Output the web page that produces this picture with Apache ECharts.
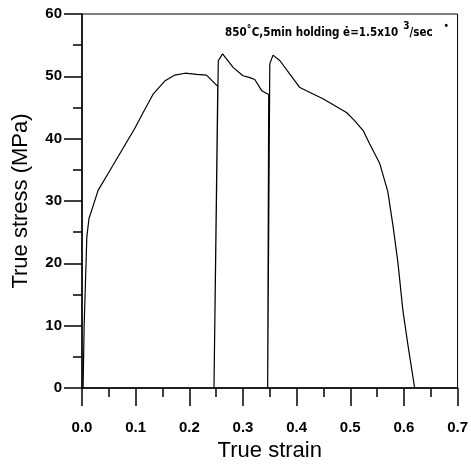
<!DOCTYPE html>
<html><head><meta charset="utf-8">
<script src="https://cdn.jsdelivr.net/npm/echarts@6/dist/echarts.min.js"></script>
<style>html,body{margin:0;padding:0;background:#fff}#c{width:471px;height:467px}</style>
</head><body><div id="c"></div>
<script>
const strain = [0.002,0.004,0.009,0.013,0.018,0.030,0.052,0.074,0.098,0.114,0.133,0.155,0.173,0.192,0.214,0.232,0.253,0.246,0.254,0.262,0.282,0.300,0.313,0.322,0.335,0.348,0.346,0.350,0.356,0.369,0.387,0.406,0.449,0.493,0.508,0.524,0.536,0.555,0.570,0.580,0.589,0.598,0.608,0.620];
const stress = [0,10,24.2,27.2,28.5,31.7,34.9,38.1,41.6,44.2,47.2,49.3,50.2,50.5,50.3,50.2,48.4,0,52.5,53.6,51.4,50.1,49.8,49.5,47.7,47.1,0,52.0,53.4,52.5,50.4,48.2,46.4,44.2,42.9,41.3,39.2,36.0,31.5,25.8,20.0,12.5,6.6,0];
const xTitle = 'True strain';
const yTitle = 'True stress (MPa)';
const note = '850˚C,5min holding ė=1.5x10';

const chart = echarts.init(document.getElementById('c'));
const axisCommon = {
  axisLine: {show: true, onZero: false, lineStyle: {color: '#000', width: 1.5}},
  axisTick: {show: true, inside: false, length: 18, lineStyle: {color: '#000', width: 1.5}},
  minorTick: {show: true, splitNumber: 2, length: 9, lineStyle: {color: '#000', width: 1.5}},
  splitLine: {show: false},
  axisLabel: {color: '#000', fontFamily: 'Liberation Sans', fontWeight: 'bold', fontSize: 15}
};
const cond = "'DejaVu Sans Condensed', 'Liberation Sans', sans-serif";
chart.setOption({
  animation: false,
  backgroundColor: '#fff',
  grid: {left: 82, top: 14, right: 13, bottom: 79, show: true, borderColor: '#000', borderWidth: 1, backgroundColor: 'transparent'},
  title: {
    text: '{a|' + note + '}{s|3}{a|/sec}{d|•}',
    left: 220, top: 16,
    textStyle: {rich: {
      a: {fontFamily: cond, fontWeight: 'bold', fontSize: 11.5, color: '#000', verticalAlign: 'bottom', lineHeight: 18},
      s: {fontFamily: cond, fontWeight: 'bold', fontSize: 10, color: '#000', verticalAlign: 'top', padding: [0, 0, 8, 5], lineHeight: 18},
      d: {fontSize: 10, color: '#000', padding: [0, 0, 8, 12], lineHeight: 18}
    }}
  },
  xAxis: Object.assign({}, axisCommon, {
    type: 'value', min: 0, max: 0.7, interval: 0.1,
    name: xTitle, nameLocation: 'middle', nameGap: 52,
    nameTextStyle: {color: '#000', fontFamily: 'Liberation Sans', fontSize: 22},
    axisLabel: Object.assign({}, axisCommon.axisLabel, {margin: 32, formatter: v => v.toFixed(1)})
  }),
  yAxis: Object.assign({}, axisCommon, {
    type: 'value', min: 0, max: 60, interval: 10,
    name: yTitle, nameLocation: 'middle', nameGap: 50,
    nameTextStyle: {color: '#000', fontFamily: 'Liberation Sans', fontSize: 22},
    axisLabel: Object.assign({}, axisCommon.axisLabel, {margin: 20})
  }),
  series: [{
    type: 'line',
    data: strain.map((x, i) => [x, stress[i]]),
    showSymbol: false, symbol: 'none',
    lineStyle: {color: '#000', width: 1.2},
    clip: true
  }]
});
</script></body></html>
